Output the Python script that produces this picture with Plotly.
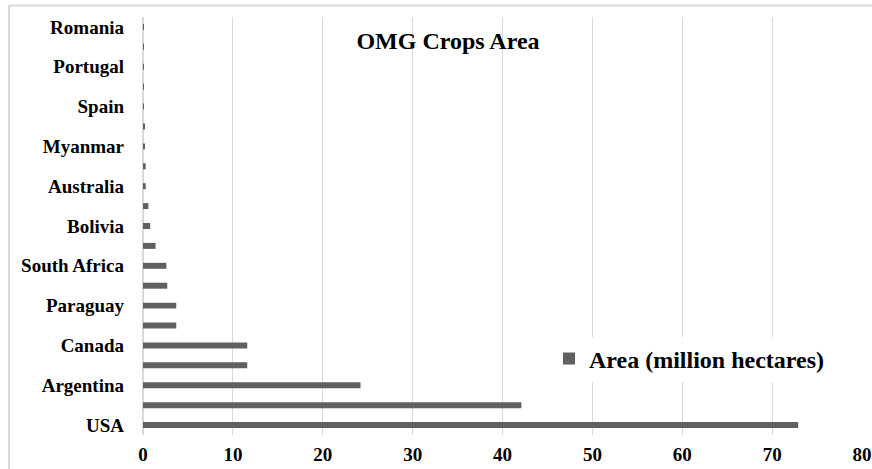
import plotly.graph_objects as go

# GM crop area by country, bottom to top
countries = ["USA", "Brazil", "Argentina", "India", "Canada", "China", "Paraguay",
             "Pakistan", "South Africa", "Uruguay", "Bolivia", "Philippines",
             "Australia", "Burkina Faso", "Myanmar", "Mexico", "Spain", "Colombia",
             "Portugal", "Sudan", "Romania"]
area = [72.9, 42.1, 24.2, 11.6, 11.6, 3.7, 3.7, 2.7, 2.6, 1.4, 0.8, 0.6,
        0.3, 0.3, 0.15, 0.15, 0.02, 0.02, 0.02, 0.02, 0.02]
labeled = countries[::2]
x_ticks = [0, 10, 20, 30, 40, 50, 60, 70, 80]

FONT = "Liberation Serif, Times New Roman, serif"
W, H = 872, 469
L, R, T, B = 143, 10, 17, 34
PW, PH = W - L - R, H - T - B

fig = go.Figure(go.Bar(
    x=area, y=countries, orientation="h",
    name="Area (million hectares)",
    marker=dict(color="#606060", line=dict(width=0)),
))

fig.update_layout(
    width=W, height=H,
    margin=dict(l=L, r=R, t=T, b=B, pad=0, autoexpand=False),
    paper_bgcolor="white", plot_bgcolor="white",
    bargap=0.7,
    font=dict(family=FONT, size=19, color="#000000", weight="bold"),
    title=dict(text="OMG Crops Area", x=448 / W, xref="container",
               xanchor="center", y=1 - 41 / H, yanchor="middle",
               font=dict(family=FONT, size=24, color="#000000", weight="bold")),
    showlegend=True,
    legend=dict(x=(549 - L) / PW, y=(H - B - 359) / PH,
                xanchor="left", yanchor="middle", bgcolor="white",
                borderwidth=0,
                font=dict(family=FONT, size=24, color="#000000", weight="bold"),
                itemclick=False),
    xaxis=dict(range=[0, 80], tickvals=x_ticks, showgrid=True, gridcolor="#d9d9d9",
               gridwidth=1, zeroline=True, zerolinecolor="#d9d9d9", zerolinewidth=2,
               showline=False, ticks="", ticklabelstandoff=6, automargin=False,
               tickfont=dict(family=FONT, size=19, color="#000000", weight="bold")),
    yaxis=dict(type="category", categoryorder="array", categoryarray=countries,
               tickvals=labeled, showgrid=False, zeroline=False, showline=False,
               ticks="", ticklabelstandoff=18, automargin=False,
               tickfont=dict(family=FONT, size=19, color="#000000", weight="bold")),
)

# chart frame
fig.add_shape(type="rect", xref="paper", yref="paper",
              x0=(9 - L) / PW, x1=1.2,
              y0=-0.3, y1=(H - B - 5.5) / PH,
              line=dict(color="#d9d9d9", width=2), fillcolor="rgba(0,0,0,0)",
              layer="below")

fig.write_html("out.html")
